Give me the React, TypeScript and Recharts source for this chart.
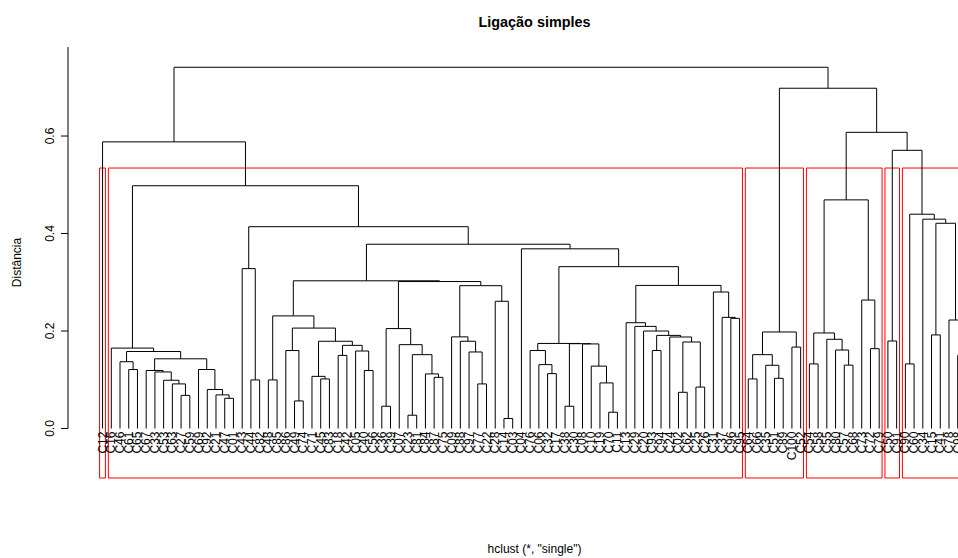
import React from "react";
import {
  ComposedChart,
  Line,
  Scatter,
  XAxis,
  YAxis,
  ReferenceArea,
  ReferenceLine,
} from "recharts";

// leaf labels in dendrogram order (left to right)
const leafLabels = [
  "C12",
  "C16", "C46", "C61", "C65", "C67", "C33", "C53", "C63", "C27", "C59", "C69", "C92", "C21", "C47", "C01",
  "C43", "C44", "C82", "C48", "C85", "C86", "C49", "C74", "C71", "C45", "C83", "C18", "C42", "C05", "C40",
  "C56", "C36", "C39", "C07", "C23", "C81", "C84", "C87", "C75", "C09", "C88", "C97", "C77", "C22", "C28",
  "C14", "C03", "C04", "C76", "C06", "C32", "C17", "C38", "C30", "C08", "C10", "C19", "C70", "C11", "C13",
  "C29", "C20", "C93", "C94", "C24", "C02", "C62", "C25", "C26", "C31", "C37", "C96", "C95",
  "C64", "C66", "C35", "C51", "C89", "C100", "C52",
  "C54", "C58", "C55", "C80", "C57", "C68", "C73", "C72", "C79",
  "C50", "C91",
  "C90", "C60", "C34", "C15", "C41", "C78", "C98", "C99",
];

// merges: [a, b, height]; ids < 100 are leaves (by position), 100 + k is merge k
const merges: [number, number, number][] = [
  [3, 4, 0.121], // 100
  [2, 100, 0.137],
  [9, 10, 0.068],
  [8, 102, 0.0915],
  [7, 103, 0.099],
  [6, 104, 0.116], // 105
  [5, 105, 0.119],
  [14, 15, 0.062],
  [13, 107, 0.069],
  [12, 108, 0.08],
  [11, 109, 0.121], // 110
  [106, 110, 0.143],
  [101, 111, 0.158],
  [1, 112, 0.165],
  [17, 18, 0.0997],
  [16, 114, 0.328], // 115
  [19, 20, 0.0997],
  [22, 23, 0.0566],
  [21, 117, 0.16],
  [25, 26, 0.1017],
  [24, 119, 0.107], // 120
  [27, 28, 0.15],
  [30, 31, 0.119],
  [29, 122, 0.159],
  [121, 123, 0.1706],
  [120, 124, 0.179], // 125
  [118, 125, 0.206],
  [116, 126, 0.231],
  [32, 33, 0.0457],
  [35, 36, 0.0273],
  [38, 39, 0.105], // 130
  [37, 130, 0.112],
  [129, 131, 0.1515],
  [34, 132, 0.172],
  [128, 133, 0.205],
  [43, 44, 0.0915], // 135
  [42, 135, 0.157],
  [41, 136, 0.179],
  [40, 137, 0.188],
  [46, 47, 0.0205],
  [45, 139, 0.261], // 140
  [138, 140, 0.293],
  [134, 141, 0.3015],
  [127, 142, 0.303],
  [51, 52, 0.1126],
  [50, 144, 0.131], // 145
  [49, 145, 0.16],
  [53, 54, 0.0457],
  [58, 59, 0.0334],
  [57, 148, 0.0935],
  [56, 149, 0.128], // 150
  [55, 150, 0.1735],
  [147, 151, 0.174],
  [146, 152, 0.1745],
  [63, 64, 0.16],
  [66, 67, 0.0743], // 155
  [68, 69, 0.085],
  [155, 156, 0.1775],
  [65, 157, 0.1877],
  [154, 158, 0.191],
  [62, 159, 0.2], // 160
  [61, 160, 0.2095],
  [60, 161, 0.217],
  [72, 73, 0.226],
  [71, 163, 0.228],
  [70, 164, 0.28], // 165
  [162, 165, 0.2935],
  [153, 166, 0.332],
  [48, 167, 0.3686],
  [143, 168, 0.378],
  [115, 169, 0.414], // 170
  [113, 170, 0.498],
  [0, 171, 0.588],
  [74, 75, 0.1017],
  [77, 78, 0.103],
  [76, 174, 0.1297], // 175
  [173, 175, 0.1515],
  [79, 80, 0.167],
  [176, 177, 0.198],
  [81, 82, 0.1325],
  [85, 86, 0.13], // 180
  [84, 180, 0.161],
  [83, 181, 0.183],
  [179, 182, 0.196],
  [88, 89, 0.1638],
  [87, 184, 0.2635], // 185
  [183, 185, 0.469],
  [90, 91, 0.1795],
  [92, 93, 0.1325],
  [95, 96, 0.192],
  [98, 99, 0.15], // 190
  [97, 190, 0.2226],
  [189, 191, 0.421],
  [94, 192, 0.4294],
  [188, 193, 0.4396],
  [187, 194, 0.5707], // 195
  [186, 195, 0.6076],
  [178, 196, 0.698],
  [172, 197, 0.741],
];

const yTicks = [0, 0.2, 0.4, 0.6];
const clusterCount = 6;

const title = "Ligação simples";
const subtitle = 'hclust (*, "single")';
const yLabel = "Distância";

const FONT = "'Liberation Sans', Arial, Helvetica, sans-serif";

// --- tree layout ---
const n = leafLabels.length;
const nodeX: number[] = leafLabels.map((_, i) => i);
const nodeH: number[] = leafLabels.map(() => 0);
const nodeFirst: number[] = leafLabels.map((_, i) => i);
const nodeLast: number[] = leafLabels.map((_, i) => i);
merges.forEach(([a, b, h], k) => {
  nodeX[n + k] = (nodeX[a] + nodeX[b]) / 2;
  nodeH[n + k] = h;
  nodeFirst[n + k] = Math.min(nodeFirst[a], nodeFirst[b]);
  nodeLast[n + k] = Math.max(nodeLast[a], nodeLast[b]);
});

const segments: { x: number; y: number | null }[] = [];
merges.forEach(([a, b, h]) => {
  segments.push(
    { x: nodeX[a], y: nodeH[a] },
    { x: nodeX[a], y: h },
    { x: nodeX[b], y: h },
    { x: nodeX[b], y: nodeH[b] },
    { x: nodeX[b], y: null },
  );
});

const leafPoints = leafLabels.map((label, i) => ({ x: i, y: 0, label }));

// rect.hclust style cut
const sortedH = merges.map((m) => m[2]).sort((p, q) => q - p);
const cutHeight = (sortedH[clusterCount - 2] + sortedH[clusterCount - 1]) / 2;
const clusters: [number, number][] = [];
function collect(id: number) {
  if (id < n || nodeH[id] < cutHeight) {
    clusters.push([nodeFirst[id], nodeLast[id]]);
    return;
  }
  const [a, b] = merges[id - n];
  collect(a);
  collect(b);
}
collect(n + merges.length - 1);

const xMin = -0.04 * (n - 1);
const xMax = (n - 1) * 1.04;
const yMin = -0.1015;
const yMax = 0.7826;

function YTick(props: any) {
  const { x, y, payload } = props;
  return (
    <text
      x={x}
      y={y}
      transform={`rotate(-90 ${x} ${y})`}
      textAnchor="middle"
      fontSize={12}
      fontFamily={FONT}
      fill="#000"
    >
      {Number(payload.value).toFixed(1)}
    </text>
  );
}

function LeafLabel(props: any) {
  const { cx, cy, payload } = props;
  const y = cy + 3;
  return (
    <text
      x={cx}
      y={y}
      transform={`rotate(-90 ${cx} ${y})`}
      textAnchor="end"
      dominantBaseline="central"
      fontSize={12}
      fontFamily={FONT}
      fill="#000"
    >
      {payload.label}
    </text>
  );
}

export default function App() {
  return (
    <div
      style={{
        position: "absolute",
        left: 0,
        top: 0,
        width: 958,
        height: 558,
        overflow: "hidden",
        background: "#fff",
      }}
    >
      <ComposedChart
        width={1040}
        height={558}
        margin={{ top: 47, right: 39, bottom: 80, left: 0 }}
      >
        <XAxis
          dataKey="x"
          type="number"
          domain={[xMin, xMax]}
          allowDataOverflow
          hide
        />
        <YAxis
          dataKey="y"
          type="number"
          domain={[yMin, yMax]}
          allowDataOverflow
          ticks={yTicks}
          interval={0}
          width={68}
          tickSize={7}
          tickMargin={6.5}
          axisLine={false}
          tickLine={{ stroke: "#000" }}
          tick={<YTick />}
        />
        <ReferenceLine
          segment={[
            { x: xMin, y: 0 },
            { x: xMin, y: yMax },
          ]}
          stroke="#000"
          ifOverflow="visible"
        />
        {clusters.map(([first, last], i) => (
          <ReferenceArea
            key={i}
            x1={first - 0.34}
            x2={last + 0.33}
            y1={yMin}
            y2={cutHeight}
            fill="none"
            stroke="#ff0000"
            strokeWidth={1}
            ifOverflow="visible"
          />
        ))}
        <Line
          data={segments}
          dataKey="y"
          type="linear"
          stroke="#000"
          strokeWidth={1}
          dot={false}
          activeDot={false}
          connectNulls={false}
          isAnimationActive={false}
        />
        <Scatter
          data={leafPoints}
          dataKey="y"
          shape={<LeafLabel />}
          isAnimationActive={false}
        />
      </ComposedChart>
      <svg
        width={958}
        height={558}
        style={{ position: "absolute", left: 0, top: 0, pointerEvents: "none" }}
      >
        <text
          x={534.5}
          y={22}
          textAnchor="middle"
          dominantBaseline="central"
          fontSize={14.4}
          fontWeight="bold"
          fontFamily={FONT}
        >
          {title}
        </text>
        <text
          x={534.5}
          y={549}
          textAnchor="middle"
          dominantBaseline="central"
          fontSize={12}
          fontFamily={FONT}
        >
          {subtitle}
        </text>
        <text
          x={17}
          y={262.5}
          transform="rotate(-90 17 262.5)"
          textAnchor="middle"
          dominantBaseline="central"
          fontSize={12}
          fontFamily={FONT}
        >
          {yLabel}
        </text>
      </svg>
    </div>
  );
}
